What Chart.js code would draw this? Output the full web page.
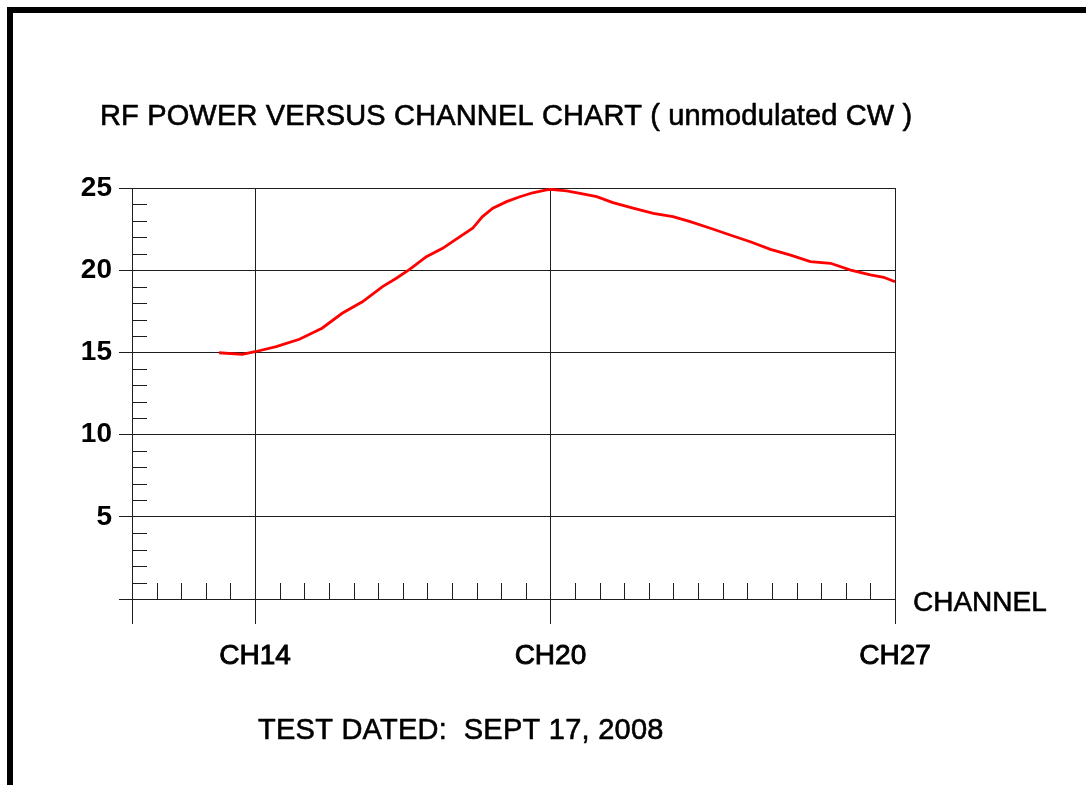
<!DOCTYPE html>
<html>
<head>
<meta charset="utf-8">
<script src="https://cdn.jsdelivr.net/npm/chart.js@4.4.0/dist/chart.umd.min.js"></script>
<style>
  html, body { margin: 0; padding: 0; background: #fff; width: 1086px; height: 785px; overflow: hidden; }
  #frame { position: absolute; left: 7px; top: 7px; width: 1079px; height: 778px;
           border-left: 6px solid #000; border-top: 6px solid #000; box-sizing: border-box; }
  #c { position: absolute; left: 0; top: 0; }
</style>
</head>
<body>
<div id="frame"></div>
<canvas id="c" width="1086" height="785"></canvas>
<script>
// ---- data ----
const channels = [13.27, 13.74, 14.0, 14.43, 14.90, 15.36, 15.77, 16.18, 16.59, 16.87,
                  17.14, 17.48, 17.81, 18.11, 18.42, 18.62, 18.83, 19.11, 19.38, 19.64,
                  19.92, 20.0, 20.33, 20.60, 20.94, 21.27, 21.68, 22.09, 22.49, 22.84,
                  23.25, 23.65, 24.06, 24.47, 24.88, 25.28, 25.69, 26.10, 26.50, 26.77, 27.0];
const rfPower  = [14.98, 14.88, 15.04, 15.35, 15.80, 16.47, 17.38, 18.08, 19.00, 19.51,
                  20.05, 20.82, 21.33, 21.94, 22.55, 23.26, 23.77, 24.17, 24.47, 24.71,
                  24.88, 24.92, 24.82, 24.68, 24.47, 24.11, 23.77, 23.46, 23.26, 22.95,
                  22.55, 22.14, 21.73, 21.27, 20.92, 20.52, 20.42, 20.01, 19.71, 19.57, 19.30];
const channelTickValues = [14, 20, 27];
const channelTickLabels = ['CH14', 'CH20', 'CH27'];
const powerTickValues = [5, 10, 15, 20, 25];
const powerTickLabels = ['5', '10', '15', '20', '25'];
const titleText = 'RF POWER VERSUS CHANNEL CHART ( unmodulated CW )';
const xAxisTitle = 'CHANNEL';
const footerText = 'TEST DATED:  SEPT 17, 2008';
const X_MIN = 11.5, X_MAX = 27, Y_MIN = 0, Y_MAX = 25;
const X_MINOR_STEP = 0.5, Y_MINOR_STEP = 1;

const FONT = "'Liberation Sans', Arial, sans-serif";
const LINE = '#1e1e1e';

const points = channels.map((c, i) => ({ x: c, y: rfPower[i] }));

function heavyText(ctx, text, x, y, stroke) {
  ctx.fillText(text, x, y);
  ctx.lineWidth = stroke;
  ctx.strokeStyle = '#000';
  ctx.lineJoin = 'round';
  ctx.strokeText(text, x, y);
}

const extrasPlugin = {
  id: 'extras',
  beforeDatasetsDraw(chart) {
    const { ctx, chartArea, scales } = chart;
    const xs = scales.x, ys = scales.y;
    ctx.save();
    ctx.strokeStyle = LINE;
    ctx.lineWidth = 1;
    ctx.beginPath();
    for (let v = Y_MIN + Y_MINOR_STEP; v < Y_MAX; v += Y_MINOR_STEP) {
      if (Math.abs(v % 5) < 1e-9) continue;
      const y = Math.round(ys.getPixelForValue(v)) + 0.5;
      ctx.moveTo(chartArea.left, y);
      ctx.lineTo(chartArea.left + 15, y);
    }
    for (let v = 12; v < X_MAX; v += X_MINOR_STEP) {
      if (channelTickValues.includes(v)) continue;
      const x = Math.round(xs.getPixelForValue(v)) + 0.5;
      ctx.moveTo(x, chartArea.bottom);
      ctx.lineTo(x, chartArea.bottom - 16);
    }
    ctx.stroke();
    ctx.restore();
  },
  afterDraw(chart) {
    const { ctx, chartArea } = chart;
    ctx.save();
    ctx.fillStyle = '#000';
    ctx.textAlign = 'left';
    ctx.textBaseline = 'alphabetic';
    ctx.font = `29px ${FONT}`;
    ctx.letterSpacing = '0.15px';
    heavyText(ctx, titleText, 100, 125, 0.6);
    ctx.font = `28px ${FONT}`;
    ctx.letterSpacing = '0px';
    heavyText(ctx, xAxisTitle, chartArea.right + 18, chartArea.bottom + 12, 0.6);
    ctx.font = `29px ${FONT}`;
    ctx.letterSpacing = '0.25px';
    heavyText(ctx, footerText, 258, 739, 0.6);
    ctx.restore();
  }
};

new Chart(document.getElementById('c'), {
  type: 'line',
  data: {
    datasets: [{
      data: points,
      borderColor: '#ff0000',
      borderWidth: 2.8,
      pointRadius: 0,
      tension: 0,
      fill: false
    }]
  },
  options: {
    responsive: false,
    animation: false,
    devicePixelRatio: 1,
    layout: { padding: { top: 188, right: 191, left: 0, bottom: 0 } },
    plugins: { legend: { display: false }, tooltip: { enabled: false }, title: { display: false } },
    scales: {
      x: {
        type: 'linear',
        min: X_MIN, max: X_MAX,
        afterBuildTicks(scale) {
          scale.ticks = [X_MIN, ...channelTickValues].map(v => ({ value: v }));
        },
        afterFit(scale) { scale.height = 186; },
        ticks: {
          autoSkip: false,
          maxRotation: 0,
          padding: 15,
          color: '#000',
          textStrokeColor: '#000',
          textStrokeWidth: 0.9,
          font: { family: FONT, size: 28, weight: 'normal' },
          callback(value) {
            const i = channelTickValues.indexOf(value);
            return i >= 0 ? channelTickLabels[i] : '';
          }
        },
        grid: { color: LINE, lineWidth: 1, tickLength: 25, drawTicks: true },
        border: { display: true, color: LINE, width: 1 }
      },
      y: {
        type: 'linear',
        min: Y_MIN, max: Y_MAX,
        afterBuildTicks(scale) {
          scale.ticks = [Y_MIN, ...powerTickValues].map(v => ({ value: v }));
        },
        afterFit(scale) { scale.width = 132; },
        ticks: {
          padding: 7,
          color: '#000',
          font: { family: FONT, size: 28, weight: 'bold' },
          callback(value) {
            const i = powerTickValues.indexOf(value);
            return i >= 0 ? powerTickLabels[i] : '';
          }
        },
        grid: { color: LINE, lineWidth: 1, tickLength: 13, drawTicks: true },
        border: { display: true, color: LINE, width: 1 }
      }
    }
  },
  plugins: [extrasPlugin]
});
</script>
</body>
</html>
